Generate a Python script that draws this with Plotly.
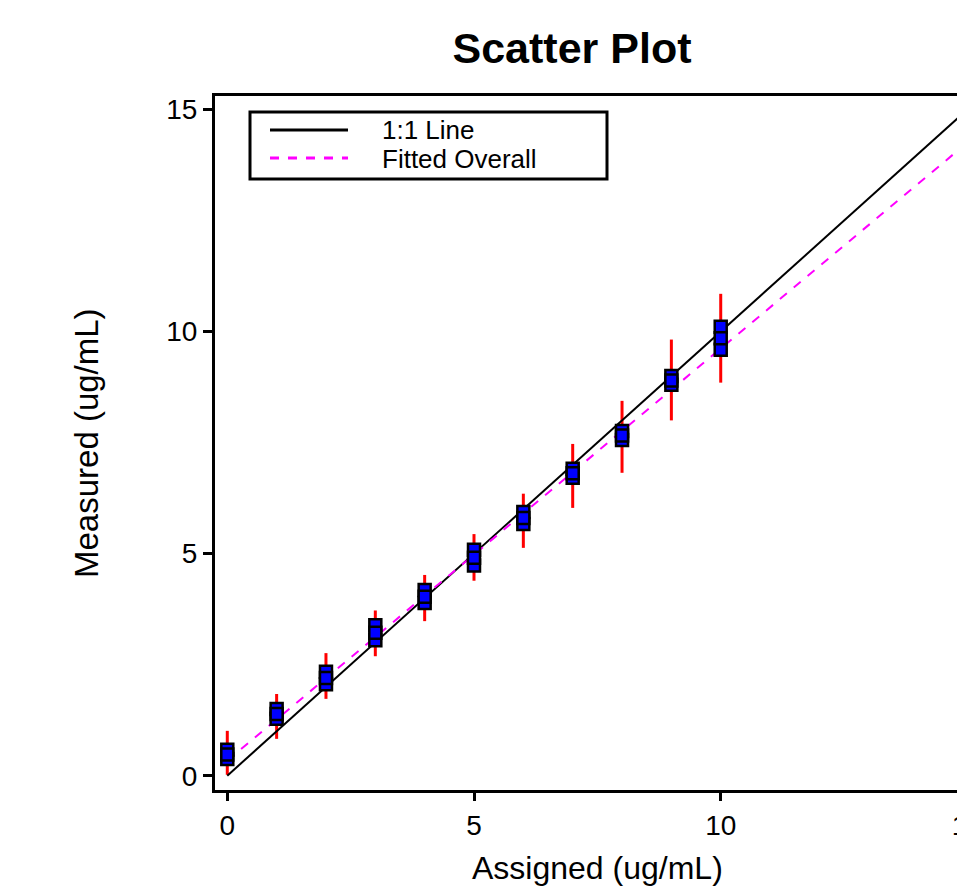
import plotly.graph_objects as go

# ---------------- data ----------------
levels = [0, 1, 2, 3, 4, 5, 6, 7, 8, 9, 10]
rep_hi = [0.585, 1.50, 2.34, 3.39, 4.18, 5.09, 5.94, 6.91, 7.76, 9.00, 10.11]
rep_mid = [0.48, 1.39, 2.20, 3.22, 4.03, 4.91, 5.80, 6.81, 7.66, 8.90, 9.85]
rep_lo = [0.376, 1.28, 2.06, 3.05, 3.89, 4.73, 5.67, 6.71, 7.56, 8.80, 9.59]
whisk_hi = [1.01, 1.84, 2.76, 3.72, 4.52, 5.44, 6.35, 7.47, 8.44, 9.82, 10.85]
whisk_lo = [0.02, 0.83, 1.73, 2.69, 3.48, 4.39, 5.13, 6.03, 6.82, 8.00, 8.85]
line11_x = [0, 15.5]
line11_y = [0, 15.5]
fit_x = [0, 15.5]
fit_y = [0.34, 14.72]
x_ticks = [0, 5, 10, 15]
y_ticks = [0, 5, 10, 15]

# figure is wider than the 957px window; the page clips it like the reference
W, H = 1000, 890
ML, MR, MT, MB = 215, 19, 96, 100
PW, PH = W - ML - MR, H - MT - MB
FONT = "Liberation Sans, Arial, sans-serif"


def px(x):
    return (x - ML) / PW


def py(y):
    return (H - MB - y) / PH


fig = go.Figure()

# whiskers
wx, wy = [], []
for l, lo, hi in zip(levels, whisk_lo, whisk_hi):
    wx += [l, l, None]
    wy += [lo, hi, None]
fig.add_trace(go.Scatter(x=wx, y=wy, mode="lines",
                         line=dict(color="#FF0000", width=3),
                         showlegend=False, hoverinfo="skip"))

fig.add_trace(go.Scatter(x=line11_x, y=line11_y, mode="lines", name="1:1 Line",
                         line=dict(color="black", width=2), showlegend=False))
fig.add_trace(go.Scatter(x=fit_x, y=fit_y, mode="lines", name="Fitted Overall",
                         line=dict(color="#FF00FF", width=2, dash="dash"),
                         showlegend=False))

for reps in (rep_lo, rep_hi, rep_mid):
    fig.add_trace(go.Scatter(x=levels, y=reps, mode="markers",
                             marker=dict(symbol="square", size=12, color="#0000FF",
                                         line=dict(color="black", width=2.5)),
                             showlegend=False, cliponaxis=False))

# manual legend
fig.add_shape(type="rect", xref="paper", yref="paper",
              x0=px(250), x1=px(607), y0=py(112), y1=py(179),
              line=dict(color="black", width=3), fillcolor="white", layer="above")
fig.add_shape(type="line", xref="paper", yref="paper",
              x0=px(270), x1=px(348), y0=py(130), y1=py(130),
              line=dict(color="black", width=3), layer="above")
fig.add_shape(type="line", xref="paper", yref="paper",
              x0=px(270), x1=px(348), y0=py(158), y1=py(158),
              line=dict(color="#FF00FF", width=3, dash="dash"), layer="above")
fig.add_annotation(xref="paper", yref="paper", x=px(380), y=py(130),
                   xanchor="left", yanchor="middle", text="1:1 Line", showarrow=False,
                   font=dict(family=FONT, size=26, color="black"))
fig.add_annotation(xref="paper", yref="paper", x=px(380), y=py(159),
                   xanchor="left", yanchor="middle", text="Fitted Overall", showarrow=False,
                   font=dict(family=FONT, size=26, color="black"))

# axis titles
fig.add_annotation(xref="paper", yref="paper", x=px(86), y=py(443),
                   xanchor="center", yanchor="middle", textangle=-90,
                   text="Measured (ug/mL)", showarrow=False,
                   font=dict(family=FONT, size=33, color="black"))
fig.add_annotation(xref="paper", yref="paper", x=px(597), y=py(868),
                   xanchor="center", yanchor="middle",
                   text="Assigned (ug/mL)", showarrow=False,
                   font=dict(family=FONT, size=32, color="black"))

fig.update_layout(
    width=W, height=H,
    margin=dict(l=ML, r=MR, t=MT, b=MB),
    paper_bgcolor="white", plot_bgcolor="white",
    font=dict(family=FONT, color="black"),
    title=dict(text="<b>Scatter Plot</b>", x=572 / W, xanchor="center",
               y=1 - 48 / H, yanchor="middle", xref="container", yref="container",
               font=dict(family=FONT, size=43, color="black")),
    xaxis=dict(range=[-0.249, 15.275], tickvals=x_ticks, showgrid=False, zeroline=False,
               showline=True, linecolor="black", linewidth=3, mirror=True,
               ticks="outside", ticklen=8, tickwidth=3, tickcolor="black",
               tickfont=dict(family=FONT, size=28, color="black")),
    yaxis=dict(range=[-0.322, 15.304], tickvals=y_ticks, showgrid=False, zeroline=False,
               showline=True, linecolor="black", linewidth=3, mirror=True,
               ticks="outside", ticklen=9, tickwidth=3, tickcolor="black",
               tickfont=dict(family=FONT, size=28, color="black")),
)

fig.write_html(
    "out.html",
    config={"displayModeBar": False},
    post_script="document.body.style.margin='0';document.body.style.overflow='hidden';"
                "document.documentElement.style.overflow='hidden';",
)
